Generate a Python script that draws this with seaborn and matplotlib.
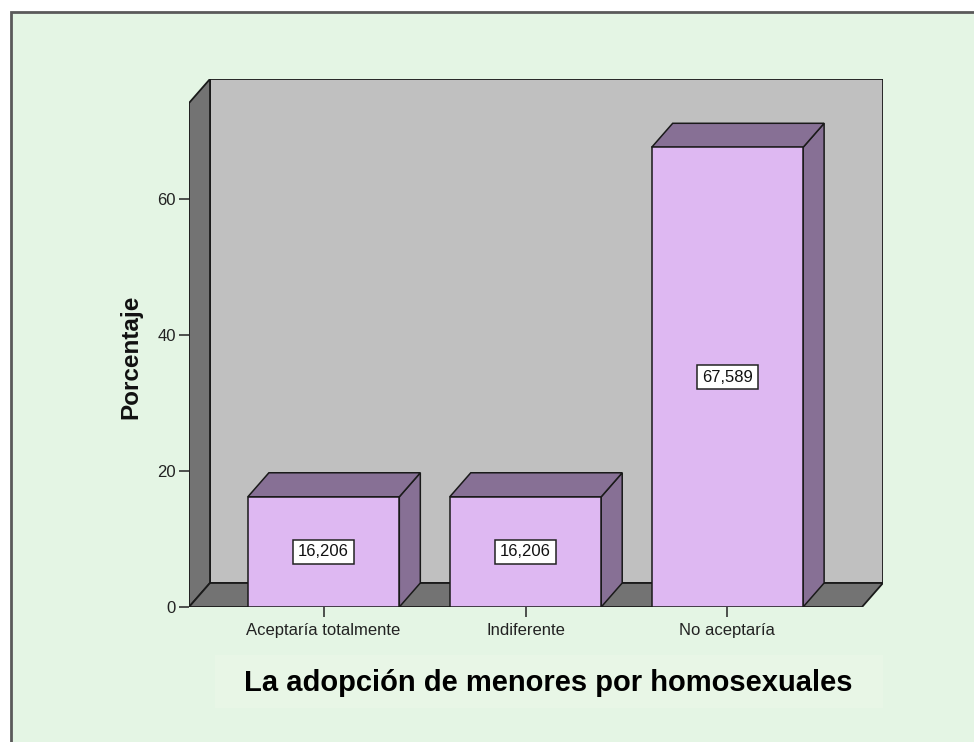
import matplotlib
matplotlib.use("Agg")
import matplotlib.pyplot as plt
from matplotlib.patches import Polygon, Rectangle
import seaborn as sns
import pandas as pd

# Data
categories = ["Aceptaría totalmente", "Indiferente", "No aceptaría"]
percentages = [16.206, 16.206, 67.589]
value_labels = ["16,206", "16,206", "67,589"]
y_ticks = [0, 20, 40, 60]

# Style
BG = "#e4f5e4"
WALL = "#c0c0c0"
SIDE = "#737373"
FRONT = "#deb8f2"
SHADE = "#877095"

sns.set_theme(style="white")
plt.rcParams["font.family"] = ["Liberation Sans", "DejaVu Sans"]

fig = plt.figure(figsize=(9.74, 7.42), dpi=100, facecolor="white")

# outer frame (only top/left visible in the crop)
fig.add_artist(Rectangle((10.5 / 974, -0.2), 1.3, 1.2 - 11.5 / 742,
                         transform=fig.transFigure, facecolor=BG,
                         edgecolor="#5a5a5a", lw=2.0, zorder=0))
# slightly lighter band behind the title
fig.add_artist(Rectangle((215 / 974, (742 - 708) / 742), 668 / 974, 53 / 742,
                         transform=fig.transFigure, facecolor="#e8f6e6",
                         edgecolor="none", zorder=0.5))

ax = fig.add_axes([189 / 974, (742 - 607) / 742, 694 / 974, 528 / 742])
ax.set_facecolor("none")

x0, x1 = -2 / 3, 2 + 2 / 3
ymax = 74.1
dx, dy = 0.104, 3.53  # depth offset in data units

edge = dict(edgecolor="#1a1a1a", lw=1.3, joinstyle="miter")
# back wall, left wall, floor
ax.add_patch(Polygon([(x0 + dx, dy), (x1 + dx, dy), (x1 + dx, ymax + dy), (x0 + dx, ymax + dy)],
                     facecolor=WALL, zorder=1, **edge))
ax.add_patch(Polygon([(x0, 0), (x0 + dx, dy), (x0 + dx, ymax + dy), (x0, ymax)],
                     facecolor=SIDE, zorder=1, **edge))
ax.add_patch(Polygon([(x0, 0), (x1, 0), (x1 + dx, dy), (x0 + dx, dy)],
                     facecolor=SIDE, zorder=1, **edge))

df = pd.DataFrame({"cat": categories, "pct": percentages})
sns.barplot(data=df, x="cat", y="pct", ax=ax, color=FRONT, width=0.75,
            saturation=1, edgecolor="#1a1a1a", linewidth=1.1, zorder=3)

bars = [p for p in ax.patches if not isinstance(p, Polygon)]
for bar, lab in zip(bars, value_labels):
    bx, bw, bh = bar.get_x(), bar.get_width(), bar.get_height()
    ax.add_patch(Polygon([(bx + bw, 0), (bx + bw + dx, dy), (bx + bw + dx, bh + dy), (bx + bw, bh)],
                         facecolor=SHADE, zorder=2.5, edgecolor="#1a1a1a", lw=1.1))
    ax.add_patch(Polygon([(bx, bh), (bx + bw, bh), (bx + bw + dx, bh + dy), (bx + dx, bh + dy)],
                         facecolor=SHADE, zorder=2.5, edgecolor="#1a1a1a", lw=1.1))
    ax.text(bx + bw / 2, bh / 2, lab, ha="center", va="center", fontsize=12,
            color="#111111", zorder=5,
            bbox=dict(boxstyle="square,pad=0.28", facecolor="white",
                      edgecolor="#222222", lw=1.1))

ax.set_xlim(x0, x1 + dx)
ax.set_ylim(0, ymax + dy)

for s in ax.spines.values():
    s.set_visible(False)

ax.set_yticks(y_ticks)
ax.set_yticklabels([str(v) for v in y_ticks], fontsize=12, color="#222222")
ax.set_xticks(range(len(categories)))
ax.set_xticklabels(categories, fontsize=12, color="#222222")
ax.tick_params(axis="both", direction="out", length=7.5, width=1.2,
               color="#333333", pad=2, left=True, bottom=True)
ax.tick_params(axis="x", pad=4)
ax.set_xlabel("")
ax.set_ylabel("")

fig.text(131 / 974, 1 - 357 / 742, "Porcentaje", rotation=90, ha="center",
         va="center", fontsize=17.5, fontweight="bold", color="#111111")
fig.text(548.5 / 974, 1 - 683 / 742, "La adopción de menores por homosexuales",
         ha="center", va="center", fontsize=21, fontweight="bold", color="black")

fig.savefig("out.png", dpi=100, facecolor=fig.get_facecolor())
